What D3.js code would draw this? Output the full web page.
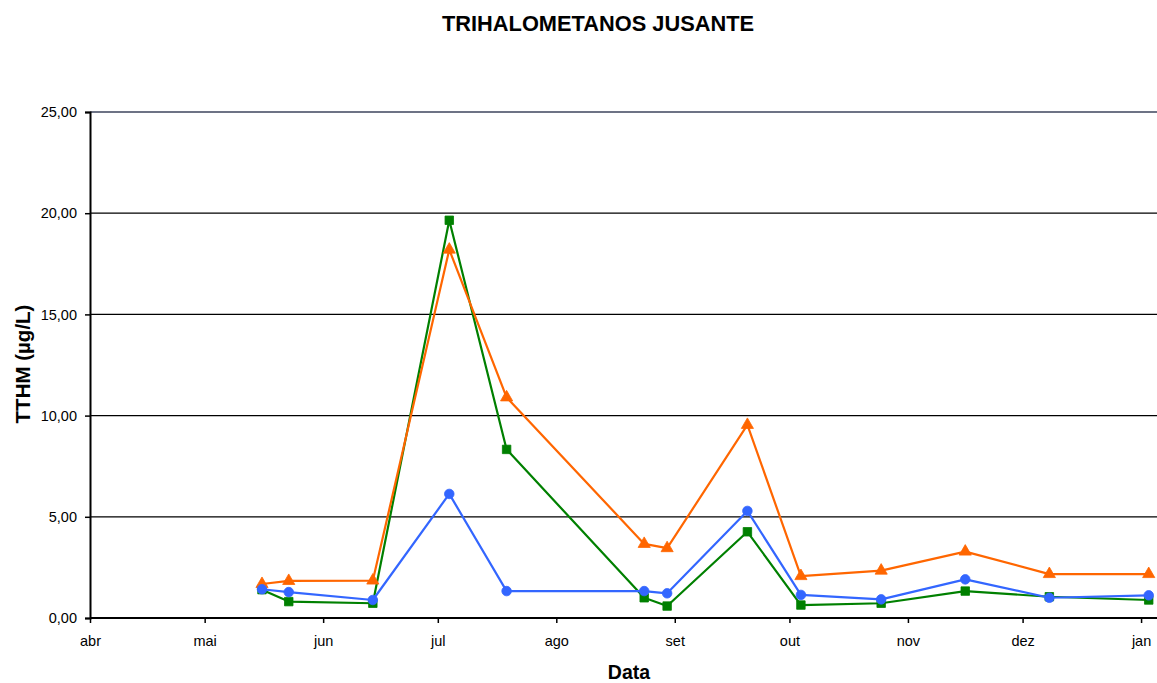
<!DOCTYPE html>
<html>
<head>
<meta charset="utf-8">
<script src="https://cdn.jsdelivr.net/npm/d3@7"></script>
<style>
  html, body { margin: 0; padding: 0; background: #fff; }
  svg { display: block; font-family: Arial, "Liberation Sans", sans-serif; }
</style>
</head>
<body>
<svg id="chart" width="1157" height="683"></svg>
<script>
// Sampling dates and measured TTHM concentrations (µg/L)
const sampleDates = [
  "2006-05-16", "2006-05-23", "2006-06-14", "2006-07-04", "2006-07-19",
  "2006-08-24", "2006-08-30", "2006-09-20", "2006-10-04", "2006-10-25",
  "2006-11-16", "2006-12-08", "2007-01-03"
];
const seriesOrange = [1.68, 1.83, 1.85, 18.2, 10.9, 3.66, 3.45, 9.54, 2.07, 2.34, 3.28, 2.17, 2.17];
const seriesBlue   = [1.42, 1.28, 0.89, 6.13, 1.33, 1.33, 1.22, 5.29, 1.14, 0.92, 1.91, 1.00, 1.12];
const seriesGreen  = [1.40, 0.81, 0.73, 19.65, 8.33, 1.00, 0.59, 4.26, 0.64, 0.73, 1.33, 1.05, 0.89];
const monthLabels = ["jan", "fev", "mar", "abr", "mai", "jun", "jul", "ago", "set", "out", "nov", "dez"];
const yTicks = [0, 5, 10, 15, 20, 25];

const svg = d3.select("#chart");
const plotLeft = 90, plotRight = 1157, plotTop = 112, plotBottom = 618;
const fontStack = "Arial, 'Liberation Sans', sans-serif";

const parse = d3.timeParse("%Y-%m-%d");
const dates = sampleDates.map(parse);

const x = d3.scaleTime()
  .domain([new Date(2006, 3, 1), new Date(2007, 0, 5, 4)])
  .range([plotLeft, plotRight]);
const y = d3.scaleLinear().domain([0, 25]).range([plotBottom, plotTop]);

const ptFormat = d3.formatLocale({ decimal: ",", thousands: ".", grouping: [3], currency: ["", ""] }).format(".2f");

// Horizontal gridlines
svg.append("g")
  .selectAll("line")
  .data(yTicks.filter(d => d > 0))
  .join("line")
  .attr("x1", plotLeft).attr("x2", plotRight)
  .attr("y1", d => y(d)).attr("y2", d => y(d))
  .attr("stroke", d => d === 25 ? "#6d7385" : "#000")
  .attr("stroke-width", d => d === 25 ? 2.2 : 1.3);

// Y axis
const yAxis = svg.append("g")
  .attr("transform", `translate(${plotLeft},0)`)
  .call(d3.axisLeft(y).tickValues(yTicks).tickFormat(ptFormat).tickSize(5).tickPadding(8));
yAxis.select(".domain").attr("stroke", "#000").attr("stroke-width", 2);
yAxis.selectAll(".tick line").attr("stroke", "#000").attr("stroke-width", 1.5);
yAxis.selectAll(".tick text").attr("font-size", 14.5).attr("fill", "#000")
  .attr("font-family", fontStack);

// X axis with month ticks
const monthTicks = d3.timeMonth.range(new Date(2006, 3, 1), new Date(2007, 0, 2));
const xAxis = svg.append("g")
  .attr("transform", `translate(0,${plotBottom})`)
  .call(d3.axisBottom(x).tickValues(monthTicks)
    .tickFormat(d => monthLabels[d.getMonth()]).tickSize(5));
xAxis.select(".domain").attr("stroke", "#000").attr("stroke-width", 2.2)
  .attr("d", `M${plotLeft},0H${plotRight}`);
xAxis.selectAll(".tick line").attr("stroke", "#000").attr("stroke-width", 1.5);
xAxis.selectAll(".tick text").attr("font-size", 14.5).attr("fill", "#000")
  .attr("font-family", fontStack).attr("y", 28).attr("dy", 0);

// Series
const series = [
  { values: seriesGreen,  color: "#008000", shape: d3.symbolSquare,   size: 72 },
  { values: seriesOrange, color: "#FF6600", shape: d3.symbolTriangle, size: 64 },
  { values: seriesBlue,   color: "#3366FF", shape: d3.symbolCircle,   size: 72 }
];

const line = d3.line().x(d => x(d.date)).y(d => y(d.value));

series.forEach(s => {
  const pts = dates.map((d, i) => ({ date: d, value: s.values[i] }));
  const g = svg.append("g");
  g.append("path")
    .datum(pts)
    .attr("d", line)
    .attr("fill", "none")
    .attr("stroke", s.color)
    .attr("stroke-width", 2.2)
    .attr("stroke-linejoin", "round");
  g.selectAll("path.mk")
    .data(pts)
    .join("path")
    .attr("class", "mk")
    .attr("transform", d => `translate(${x(d.date)},${y(d.value)})`)
    .attr("d", d3.symbol().type(s.shape).size(s.size))
    .attr("fill", s.color)
    .attr("stroke", s.color)
    .attr("stroke-width", 0.8);
});

// Titles
svg.append("text")
  .attr("x", 598).attr("y", 31)
  .attr("text-anchor", "middle")
  .attr("font-size", 21.8).attr("font-weight", "bold")
  .text("TRIHALOMETANOS JUSANTE");

svg.append("text")
  .attr("x", 629).attr("y", 678.5)
  .attr("text-anchor", "middle")
  .attr("font-size", 19.5).attr("font-weight", "bold")
  .text("Data");

svg.append("text")
  .attr("transform", "translate(30,364) rotate(-90)")
  .attr("text-anchor", "middle")
  .attr("font-size", 20.5).attr("font-weight", "bold")
  .text("TTHM (µg/L)");
</script>
</body>
</html>
